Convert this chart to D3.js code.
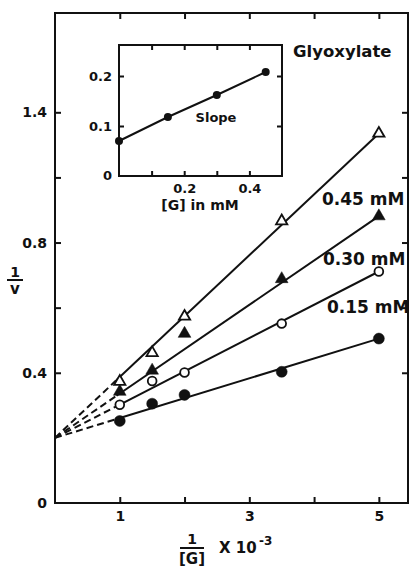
<!DOCTYPE html>
<html><head><meta charset="utf-8">
<script src="https://cdn.jsdelivr.net/npm/d3@7"></script>
<style>
body{margin:0;background:#fff}
text{font-family:"DejaVu Sans",sans-serif;font-weight:bold;fill:#111}
</style>
</head><body>
<svg id="chart" width="412" height="567"></svg>
<script>
// Lineweaver-Burk data: 1/v against 1/[G] at several glyoxylate levels
const invG = [1, 1.5, 2, 3.5, 5];
const seriesLabels = ["", "0.15 mM", "0.30 mM", "0.45 mM"];
const v0mM = [0.252, 0.305, 0.332, 0.403, 0.505];
const v015mM = [0.302, 0.375, 0.401, 0.551, 0.711];
const v030mM = [0.342, 0.407, 0.520, 0.688, 0.881];
const v045mM = [0.373, 0.461, 0.573, 0.866, 1.135];
// fitted lines: common intercept at 1/[G] = 0 and value at 1/[G] = 5
const fitIntercept = 0.2;
const fitAt5 = [0.505, 0.711, 0.881, 1.135];

const yTickValues = [0, 0.4, 0.8, 1.2];
const yTickLabels = ["0", "0.4", "0.8", "1.4"];
const yMinorTicks = [0.6, 1.0];
const xTickValues = [1, 2, 3, 4, 5];
const xTickLabels = ["1", "", "3", "", "5"];

// inset: slope of each line against [G]
const insetG = [0, 0.15, 0.30, 0.45];
const insetSlope = [0.070, 0.118, 0.162, 0.208];
const insetXTicks = [0.1, 0.2, 0.3, 0.4];
const insetXLabels = ["", "0.2", "", "0.4"];
const insetYTicks = [0.1, 0.2];
const insetYLabels = ["0.1", "0.2"];

const svg = d3.select("#chart");
const ink = "#111";

const x = d3.scaleLinear().domain([0, 5.45]).range([55, 408]);
const y = d3.scaleLinear().domain([0, 1.505]).range([503, 13]);

// frame
svg.append("rect").attr("x", x(0)).attr("y", y.range()[1])
  .attr("width", x.range()[1] - x(0)).attr("height", y(0) - y.range()[1])
  .attr("fill", "none").attr("stroke", ink).attr("stroke-width", 2);

function styleAxis(g) {
  g.select(".domain").remove();
  g.selectAll(".tick line").attr("stroke", ink).attr("stroke-width", 2);
  g.selectAll(".tick text").attr("fill", ink);
}

const allY = yTickValues.concat(yMinorTicks);
svg.append("g").attr("transform", `translate(${x(0)},0)`)
  .call(d3.axisLeft(y).tickValues(allY).tickSize(-6).tickPadding(8)
    .tickFormat(d => { const i = yTickValues.indexOf(d); return i >= 0 ? yTickLabels[i] : ""; }))
  .call(styleAxis)
  .call(g => g.selectAll(".tick text").style("font-size", "14px"))
  .call(g => g.selectAll(".tick").filter(d => d === 0).select("line").remove());
svg.append("g").attr("transform", `translate(${x.range()[1]},0)`)
  .call(d3.axisRight(y).tickValues(allY.filter(d => d > 0)).tickSize(-6).tickFormat(""))
  .call(styleAxis);
svg.append("g").attr("transform", `translate(0,${y(0)})`)
  .call(d3.axisBottom(x).tickValues(xTickValues).tickSize(-6).tickPadding(8)
    .tickFormat((d, i) => xTickLabels[i]))
  .call(styleAxis)
  .call(g => g.selectAll(".tick text").style("font-size", "14px"));
svg.append("g").attr("transform", `translate(0,${y.range()[1]})`)
  .call(d3.axisTop(x).tickValues(xTickValues).tickSize(-6).tickFormat(""))
  .call(styleAxis);

// fitted lines: dashed extrapolation to the axis, solid over the data
const fits = svg.append("g").attr("stroke", ink).attr("stroke-width", 2).attr("fill", "none");
fitAt5.forEach(v => {
  const f = t => fitIntercept + (v - fitIntercept) * t / 5;
  fits.append("line").attr("x1", x(0)).attr("y1", y(f(0))).attr("x2", x(0.95)).attr("y2", y(f(0.95)))
    .attr("stroke-dasharray", "7,4");
  fits.append("line").attr("x1", x(0.95)).attr("y1", y(f(0.95))).attr("x2", x(5)).attr("y2", y(f(5)));
});

// markers
const series = [
  {vals: v0mM, shape: d3.symbolCircle, size: 95, filled: true},
  {vals: v015mM, shape: d3.symbolCircle, size: 60, filled: false},
  {vals: v030mM, shape: d3.symbolTriangle, size: 70, filled: true},
  {vals: v045mM, shape: d3.symbolTriangle, size: 55, filled: false}
];
series.forEach(s => {
  svg.append("g").selectAll("path").data(s.vals).join("path")
    .attr("transform", (d, i) => `translate(${x(invG[i])},${y(d)})`)
    .attr("d", d3.symbol(s.shape, s.size))
    .attr("fill", s.filled ? ink : "#fff")
    .attr("stroke", ink).attr("stroke-width", s.filled ? 0.5 : 1.8);
});

// series labels
const labelAnchor = [null, [327, 313], [323, 265], [322, 205]];
seriesLabels.forEach((t, i) => {
  if (!t) return;
  svg.append("text").attr("x", labelAnchor[i][0]).attr("y", labelAnchor[i][1])
    .style("font-size", "17px").text(t);
});
svg.append("text").attr("x", 293).attr("y", 57).style("font-size", "16.5px").text("Glyoxylate");

// axis titles
const yt = svg.append("g").attr("transform", "translate(15,0)");
yt.append("text").attr("x", 0).attr("y", 277).attr("text-anchor", "middle").style("font-size", "14px").text("1");
yt.append("line").attr("x1", -8).attr("x2", 8).attr("y1", 280).attr("y2", 280).attr("stroke", ink).attr("stroke-width", 2);
yt.append("text").attr("x", 0).attr("y", 294).attr("text-anchor", "middle").style("font-size", "15px").text("v");

const xt = svg.append("g");
xt.append("text").attr("x", 192).attr("y", 544).attr("text-anchor", "middle").style("font-size", "14px").text("1");
xt.append("line").attr("x1", 180).attr("x2", 204).attr("y1", 548).attr("y2", 548).attr("stroke", ink).attr("stroke-width", 2);
xt.append("text").attr("x", 192).attr("y", 564).attr("text-anchor", "middle").style("font-size", "15px").text("[G]");
xt.append("text").attr("x", 219).attr("y", 553).style("font-size", "15px").text("X 10");
xt.append("text").attr("x", 259).attr("y", 545).style("font-size", "12px").text("-3");

// inset: slope against [G]
const ix = d3.scaleLinear().domain([0, 0.5]).range([119, 282]);
const iy = d3.scaleLinear().domain([0, 0.262]).range([176, 45]);
svg.append("rect").attr("x", ix(0)).attr("y", iy.range()[1])
  .attr("width", ix.range()[1] - ix(0)).attr("height", iy(0) - iy.range()[1])
  .attr("fill", "#fff").attr("stroke", ink).attr("stroke-width", 2);
svg.append("g").attr("transform", `translate(${ix(0)},0)`)
  .call(d3.axisLeft(iy).tickValues(insetYTicks).tickSize(-5).tickPadding(7)
    .tickFormat((d, i) => insetYLabels[i]))
  .call(styleAxis).call(g => g.selectAll(".tick text").style("font-size", "13px"));
svg.append("g").attr("transform", `translate(${ix.range()[1]},0)`)
  .call(d3.axisRight(iy).tickValues(insetYTicks).tickSize(-5).tickFormat(""))
  .call(styleAxis);
svg.append("g").attr("transform", `translate(0,${iy(0)})`)
  .call(d3.axisBottom(ix).tickValues(insetXTicks).tickSize(-5).tickPadding(8)
    .tickFormat((d, i) => insetXLabels[i]))
  .call(styleAxis).call(g => g.selectAll(".tick text").style("font-size", "13px"));
svg.append("g").attr("transform", `translate(0,${iy.range()[1]})`)
  .call(d3.axisTop(ix).tickValues(insetXTicks).tickSize(-5).tickFormat(""))
  .call(styleAxis);
svg.append("text").attr("x", ix(0) - 7).attr("y", iy(0)).attr("dy", "0.32em")
  .attr("text-anchor", "end").style("font-size", "13px").text("0");

svg.append("path").datum(insetG)
  .attr("d", d3.line().x(d => ix(d)).y((d, i) => iy(insetSlope[i])))
  .attr("fill", "none").attr("stroke", ink).attr("stroke-width", 2);
svg.append("g").selectAll("circle").data(insetG).join("circle")
  .attr("cx", d => ix(d)).attr("cy", (d, i) => iy(insetSlope[i])).attr("r", 4).attr("fill", ink);
svg.append("text").attr("x", 216).attr("y", 122).attr("text-anchor", "middle")
  .style("font-size", "13px").text("Slope");
svg.append("text").attr("x", 200).attr("y", 210).attr("text-anchor", "middle")
  .style("font-size", "14px").text("[G] in mM");
</script>
</body></html>
